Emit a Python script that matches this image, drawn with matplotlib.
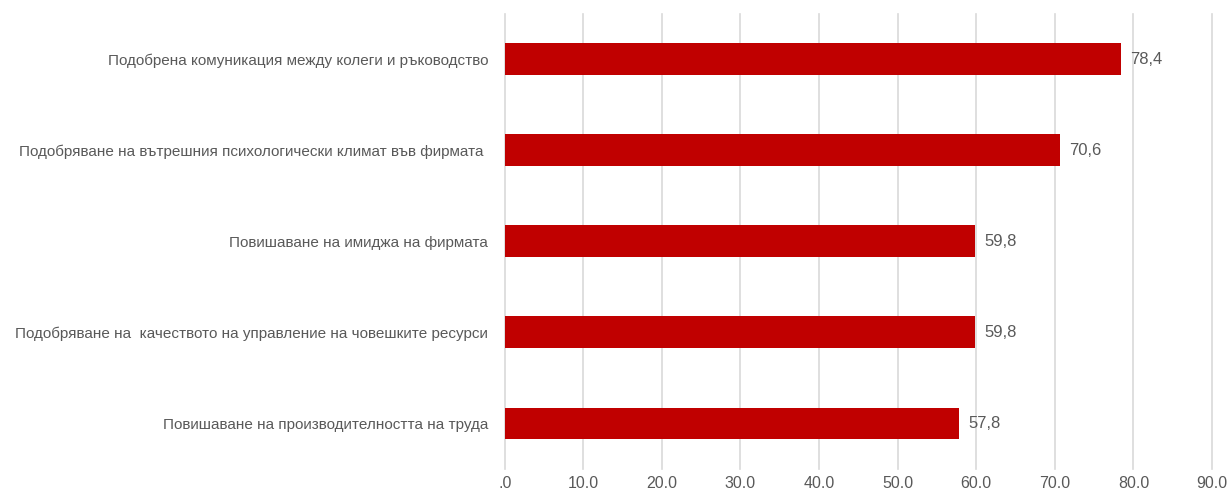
import matplotlib
matplotlib.use("Agg")
import matplotlib.pyplot as plt
from matplotlib.ticker import FuncFormatter

categories = [
    "Подобрена комуникация между колеги и ръководство",
    "Подобряване на вътрешния психологически климат във фирмата ",
    "Повишаване на имиджа на фирмата",
    "Подобряване на  качеството на управление на човешките ресурси",
    "Повишаване на производителността на труда",
]
values = [78.4, 70.6, 59.8, 59.8, 57.8]
x_ticks = [0, 10, 20, 30, 40, 50, 60, 70, 80, 90]

plt.rcParams["font.family"] = ["Liberation Sans", "DejaVu Sans"]
text_color = "#595959"

fig = plt.figure(figsize=(12.28, 4.95), dpi=100)
ax = fig.add_axes([0.411, 0.0525, 0.576, 0.92])

y = list(range(len(categories)))
ax.barh(y, values, height=0.35, color="#C00000", zorder=3)
ax.set_ylim(len(categories) - 0.5, -0.5)
ax.set_xlim(0, 90)

for yi, v in zip(y, values):
    ax.text(v + 1.2, yi, f"{v:.1f}".replace(".", ","), va="center", ha="left",
            fontsize=12, color=text_color)

ax.set_yticks(y)
ax.set_yticklabels(categories, fontsize=11, color=text_color)
ax.set_xticks(x_ticks)


def fmt(v, pos):
    s = f"{v:.1f}"
    return s[1:] if s.startswith("0") else s


ax.xaxis.set_major_formatter(FuncFormatter(fmt))
ax.tick_params(axis="x", labelsize=11.5, colors=text_color, length=0, pad=5)
ax.tick_params(axis="y", length=0, pad=12)
ax.grid(axis="x", color="#D9D9D9", linewidth=1.2, zorder=0)
for line in ax.get_xgridlines():
    line.set_clip_on(False)
for s in ax.spines.values():
    s.set_visible(False)

fig.savefig("out.png", dpi=100)
